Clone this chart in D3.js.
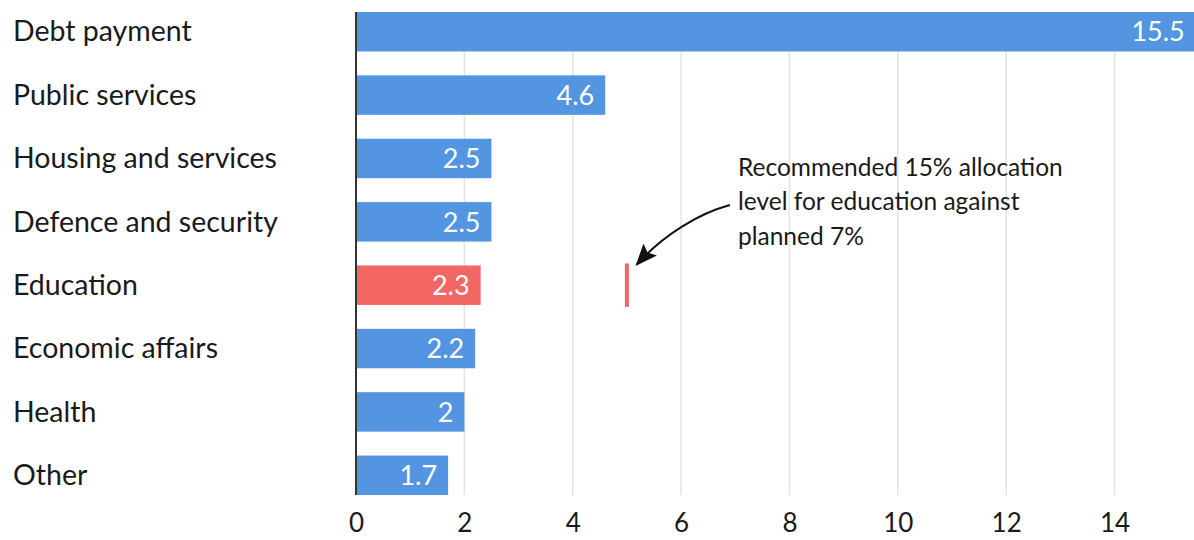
<!DOCTYPE html>
<html>
<head>
<meta charset="utf-8">
<script src="https://cdn.jsdelivr.net/npm/d3@7"></script>
<style>
  body { margin: 0; background: #fff; }
  text { font-family: Lato, "Open Sans", sans-serif; }
</style>
</head>
<body>
<svg id="chart"></svg>
<script>
var width = 1194;
var height = 540;

// data
var categories = ['Debt payment', 'Public services', 'Housing and services', 'Defence and security',
                  'Education', 'Economic affairs', 'Health', 'Other'];
var values = [15.5, 4.6, 2.5, 2.5, 2.3, 2.2, 2, 1.7];
var valueLabels = ['15.5', '4.6', '2.5', '2.5', '2.3', '2.2', '2', '1.7'];
var highlight = 'Education';
var recommendedLevel = 5;
var tickValues = [0, 2, 4, 6, 8, 10, 12, 14];
var noteLines = ['Recommended 15% allocation', 'level for education against', 'planned 7%'];

var rows = categories.map((c, i) => ({ name: c, value: values[i], label: valueLabels[i] }));

var blue = '#5495e1';
var red = '#f26664';

var xScale = d3.scaleLinear()
  .domain([0, 15.5])
  .range([356, 356 + 15.5 * 54.18]);

var yScale = d3.scaleBand()
  .domain(categories)
  .range([12, 495])
  .paddingInner(0.377)
  .paddingOuter(0);

var svg = d3.select('#chart')
  .attr('width', width)
  .attr('height', height);

// gridlines
svg.append('g')
  .selectAll('line')
  .data(tickValues.slice(1))
  .enter()
  .append('line')
    .attr('x1', d => xScale(d))
    .attr('x2', d => xScale(d))
    .attr('y1', 12)
    .attr('y2', 495)
    .attr('stroke', '#e3e3e3')
    .attr('stroke-width', 1.5);

// x axis labels
var xAxis = d3.axisBottom(xScale)
  .tickValues(tickValues)
  .tickSize(0)
  .tickPadding(0)
  .tickFormat(d3.format('d'));

svg.append('g')
  .attr('transform', 'translate(0,514)')
  .call(xAxis)
  .call(g => g.select('.domain').remove())
  .selectAll('text')
    .attr('font-size', 26)
    .attr('fill', '#1a1a1a')
    .attr('dy', '0.71em');

// bars
var bars = svg.selectAll('.bar')
  .data(rows)
  .enter()
  .append('g')
    .classed('bar', true);

bars.append('rect')
  .attr('x', xScale(0))
  .attr('y', d => yScale(d.name))
  .attr('width', d => xScale(d.value) - xScale(0))
  .attr('height', yScale.bandwidth())
  .attr('fill', d => d.name === highlight ? red : blue);

bars.append('text')
  .attr('x', d => xScale(d.value) - 11)
  .attr('y', d => yScale(d.name) + yScale.bandwidth() / 2)
  .attr('dy', '0.36em')
  .attr('text-anchor', 'end')
  .attr('font-size', 27)
  .attr('fill', '#fff')
  .text(d => d.label);

// category labels
svg.append('g')
  .selectAll('text')
  .data(categories)
  .enter()
  .append('text')
    .attr('x', 13)
    .attr('y', d => yScale(d) + yScale.bandwidth() / 2)
    .attr('dy', '0.34em')
    .attr('font-size', 28.5)
    .attr('fill', '#1a1a1a')
    .text(d => d);

// axis line at zero
svg.append('line')
  .attr('x1', xScale(0))
  .attr('x2', xScale(0))
  .attr('y1', 12)
  .attr('y2', 495)
  .attr('stroke', '#333')
  .attr('stroke-width', 2);

// recommended marker
svg.append('line')
  .attr('x1', xScale(recommendedLevel))
  .attr('x2', xScale(recommendedLevel))
  .attr('y1', yScale(highlight) - 2)
  .attr('y2', yScale(highlight) + yScale.bandwidth() + 2)
  .attr('stroke', red)
  .attr('stroke-width', 4);

// annotation
svg.append('defs')
  .append('marker')
    .attr('id', 'arrow')
    .attr('viewBox', '0 0 22 18')
    .attr('refX', 20)
    .attr('refY', 9)
    .attr('markerWidth', 22)
    .attr('markerHeight', 18)
    .attr('markerUnits', 'userSpaceOnUse')
    .attr('orient', 'auto')
  .append('path')
    .attr('d', 'M0,0 L22,9 L0,18 L4,9 Z')
    .attr('fill', '#111');

var tip = [xScale(recommendedLevel) + 10, yScale(highlight) - 1];
svg.append('path')
  .attr('d', `M730,205 C700,213 664,234 ${tip[0]},${tip[1]}`)
  .attr('fill', 'none')
  .attr('stroke', '#111')
  .attr('stroke-width', 2)
  .attr('marker-end', 'url(#arrow)');

svg.append('g')
  .selectAll('text')
  .data(noteLines)
  .enter()
  .append('text')
    .attr('x', 738)
    .attr('y', (d, i) => 167 + i * 34.5)
    .attr('dy', '0.36em')
    .attr('font-size', 24.5)
    .attr('fill', '#1a1a1a')
    .text(d => d);
</script>
</body>
</html>
